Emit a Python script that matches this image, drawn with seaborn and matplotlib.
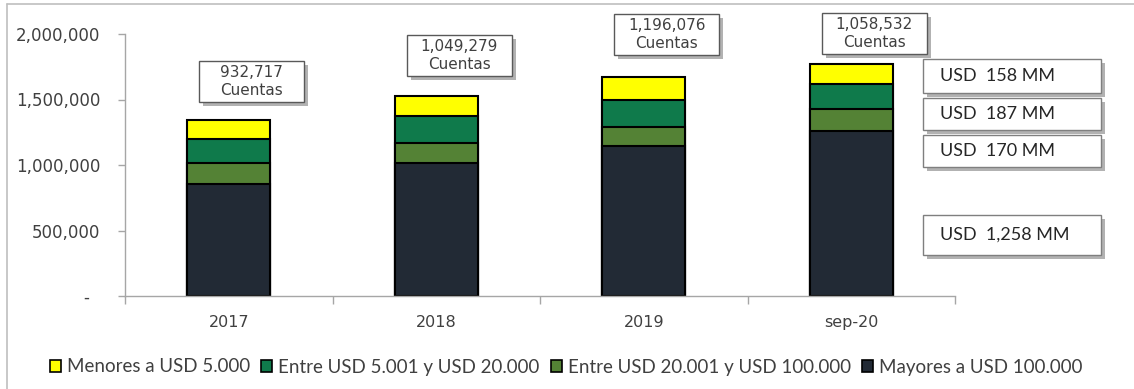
import matplotlib
matplotlib.use("Agg")
import matplotlib.pyplot as plt
import matplotlib.patheffects as pe
from matplotlib.lines import Line2D
from matplotlib.patches import Rectangle, Patch
from matplotlib.ticker import FuncFormatter, FixedLocator
import pandas as pd
import seaborn as sns

# Saldo por segmento (miles de USD) y número de cuentas por período
periodos = ["2017", "2018", "2019", "sep-20"]
segmentos = [
    "Menores a USD 5.000",
    "Entre USD 5.001 y USD 20.000",
    "Entre USD 20.001 y USD 100.000",
    "Mayores a USD 100.000",
]
mayores_100k = [857000, 1018000, 1148000, 1258000]
entre_20k_100k = [161000, 153000, 145000, 170000]
entre_5k_20k = [183000, 206000, 207000, 187000]
menores_5k = [146000, 153000, 168000, 158000]
cuentas = [932717, 1049279, 1196076, 1058532]
yticks = [0, 500000, 1000000, 1500000, 2000000]

colores = {
    "Menores a USD 5.000": "#FFFF00",
    "Entre USD 5.001 y USD 20.000": "#0F7A4B",
    "Entre USD 20.001 y USD 100.000": "#548235",
    "Mayores a USD 100.000": "#222A35",
}

valores = {
    "Mayores a USD 100.000": mayores_100k,
    "Entre USD 20.001 y USD 100.000": entre_20k_100k,
    "Entre USD 5.001 y USD 20.000": entre_5k_20k,
    "Menores a USD 5.000": menores_5k,
}

# Tabla larga con acumulados para apilar (de abajo hacia arriba)
orden_apilado = ["Mayores a USD 100.000", "Entre USD 20.001 y USD 100.000",
                 "Entre USD 5.001 y USD 20.000", "Menores a USD 5.000"]
filas = []
acum = [0] * len(periodos)
for seg in orden_apilado:
    for i, p in enumerate(periodos):
        acum[i] += valores[seg][i]
        filas.append({"periodo": p, "segmento": seg, "valor": valores[seg][i], "acumulado": acum[i]})
df = pd.DataFrame(filas)

sns.set_theme(style="white")
plt.rcParams["font.family"] = ["DejaVu Sans"]

W, H = 1134, 389
fig = plt.figure(figsize=(W / 100, H / 100), dpi=100)
ax = fig.add_axes([125 / W, 1 - 296 / H, (955 - 125) / W, (296 - 34) / H])

TXT = "#404040"
GRIS = "#A6A6A6"

# Barras acumuladas: primero la más alta, luego las inferiores encima
for seg in reversed(orden_apilado):
    sns.barplot(data=df[df["segmento"] == seg], x="periodo", y="acumulado",
                order=periodos, color=colores[seg], width=0.4, errorbar=None,
                edgecolor="black", linewidth=1.5, saturation=1, ax=ax)

ax.set_xlim(-0.5, len(periodos) - 0.5)
ax.set_ylim(0, 2000000)
ax.set_xlabel("")
ax.set_ylabel("")
ax.yaxis.set_major_locator(FixedLocator(yticks))
ax.yaxis.set_major_formatter(FuncFormatter(lambda v, _: "-  " if v == 0 else f"{v:,.0f}"))
ax.set_xticks(range(len(periodos)))
ax.set_xticklabels(periodos)
ax.set_xticks([i - 0.5 for i in range(len(periodos) + 1)], minor=True)
ax.tick_params(axis="y", length=5, width=1, color=GRIS, labelsize=12, labelcolor=TXT, pad=13, direction="out", left=True)
ax.tick_params(axis="x", which="major", length=0, labelsize=11.5, labelcolor=TXT, pad=14)
ax.tick_params(axis="x", which="minor", length=6, width=1, color=GRIS, direction="out", bottom=True)
for s in ["top", "right"]:
    ax.spines[s].set_visible(False)
for s in ["left", "bottom"]:
    ax.spines[s].set_color(GRIS)
    ax.spines[s].set_linewidth(1)

sombra = [pe.withSimplePatchShadow(offset=(3, -3), shadow_rgbFace="#7F7F7F", alpha=0.6)]
a_fig = fig.transFigure.inverted()


def caja(cx, cy, bw, bh, ec):
    """Rectángulo blanco con sombra centrado en (cx, cy) píxeles de pantalla."""
    (fx, fy) = a_fig.transform((cx - bw / 2, cy - bh / 2))
    r = Rectangle((fx, fy), bw / W, bh / H, transform=fig.transFigure,
                  fc="white", ec=ec, lw=1, zorder=4)
    r.set_path_effects(sombra)
    fig.patches.append(r)


# Etiquetas de número de cuentas sobre cada barra
pos_cuentas = [1637000, 1836000, 1997000, 2005000]
for i, (n, yc) in enumerate(zip(cuentas, pos_cuentas)):
    cx, cy = ax.transData.transform((i + 0.11, yc))
    caja(cx, cy, 105, 41, "#595959")
    fx, fy = a_fig.transform((cx, cy))
    fig.text(fx, fy, f"{n:,.0f}\nCuentas", ha="center", va="center",
             fontsize=11, color=TXT, linespacing=1.3, zorder=5)

# Cajas de saldo del último período, alineadas a la derecha
cajas = [(59, 93), (98, 130), (135, 167), (215, 255)]
segs_caja = ["Menores a USD 5.000", "Entre USD 5.001 y USD 20.000",
             "Entre USD 20.001 y USD 100.000", "Mayores a USD 100.000"]
x0, x1 = 923, 1101
for (y0, y1), seg in zip(cajas, segs_caja):
    v = valores[seg][-1]
    caja((x0 + x1) / 2, H - (y0 + y1) / 2, x1 - x0, y1 - y0, "#7F7F7F")
    fig.text(940 / W, 1 - (y0 + y1) / 2 / H, f"USD  {v / 1000:,.0f} MM", ha="left", va="center",
             fontsize=13, color="#262626", family=["Lato", "DejaVu Sans"], zorder=5)

# Leyenda inferior
handles = [Patch(facecolor=colores[s], edgecolor="black", linewidth=1.2) for s in segmentos]
fig.legend(handles, segmentos, loc="center", bbox_to_anchor=(566 / W, 1 - 367 / H), ncol=4,
           frameon=False, handlelength=0.6, handleheight=0.6, handletextpad=0.3,
           columnspacing=0.6, prop={"family": ["Lato", "DejaVu Sans"], "size": 13.5},
           labelcolor=TXT)

# Marco exterior del gráfico
fig.lines.append(Line2D([7 / W, 7 / W], [0, 1 - 4 / H], transform=fig.transFigure, color="#BFBFBF", lw=1.2))
fig.lines.append(Line2D([7 / W, 1], [1 - 4 / H, 1 - 4 / H], transform=fig.transFigure, color="#BFBFBF", lw=1.2))

fig.savefig("out.png", dpi=100, facecolor="white")
